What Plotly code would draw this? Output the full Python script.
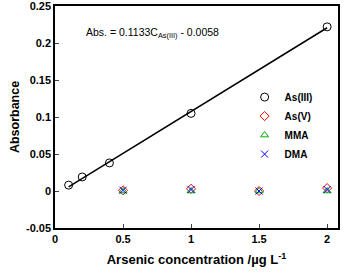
import plotly.graph_objects as go

x_as3 = [0.1, 0.2, 0.4, 1.0, 2.0]
y_as3 = [0.008, 0.019, 0.038, 0.105, 0.222]
x_other = [0.5, 1.0, 1.5, 2.0]
y_as5 = [0.001, 0.003, 0.0, 0.004]
y_mma = [0.0, 0.0, 0.0, 0.0]
y_dma = [0.001, 0.002, 0.0, 0.002]
slope, intercept = 0.1133, -0.0058
fit_x = [0.1, 2.0]
fit_y = [slope * v + intercept for v in fit_x]

font = "Liberation Sans, Arial, sans-serif"
fig = go.Figure()
fig.add_trace(go.Scatter(x=fit_x, y=fit_y, mode="lines", line=dict(color="black", width=1.5), showlegend=False))
fig.add_trace(go.Scatter(x=x_as3, y=y_as3, mode="markers", name="As(III)",
                         marker=dict(symbol="circle-open", size=8, color="black", line=dict(width=1))))
fig.add_trace(go.Scatter(x=x_other, y=y_as5, mode="markers", name="As(V)",
                         marker=dict(symbol="diamond-open", size=7, color="red", line=dict(width=1))))
fig.add_trace(go.Scatter(x=x_other, y=y_mma, mode="markers", name="MMA",
                         marker=dict(symbol="triangle-up-open", size=7, color="#00b000", line=dict(width=1))))
fig.add_trace(go.Scatter(x=x_other, y=y_dma, mode="markers", name="DMA",
                         marker=dict(symbol="x-thin-open", size=7, color="blue", line=dict(width=1, color="blue"))))

fig.add_annotation(x=0.21, y=0.2135, xref="x", yref="y", xanchor="left", yanchor="middle", showarrow=False,
                   text="Abs. = 0.1133C<sub>As(III)</sub> - 0.0058", font=dict(size=10.5, color="black", family=font))

fig.update_layout(
    width=356, height=279, margin=dict(l=55, r=18, t=6, b=51),
    paper_bgcolor="white", plot_bgcolor="white",
    font=dict(family=font, color="black", size=11),
    legend=dict(x=0.67, y=0.655, xanchor="left", yanchor="top", bgcolor="rgba(0,0,0,0)",
                font=dict(size=10, family=font, weight="bold"), itemwidth=30, tracegroupgap=0),
    xaxis=dict(range=[0, 2.08], tickvals=[0, 0.5, 1, 1.5, 2], ticktext=["0", "0.5", "1", "1.5", "2"],
               ticks="inside", ticklen=4, showline=True, linecolor="black", linewidth=1.5, mirror=True,
               showgrid=False, zeroline=False, tickfont=dict(size=11, weight="bold"), automargin=False,
               title=dict(text="Arsenic concentration /µg L<sup>-1</sup>", font=dict(size=13, weight="bold"), standoff=11)),
    yaxis=dict(range=[-0.05, 0.2502], tickvals=[-0.05, 0, 0.05, 0.1, 0.15, 0.2, 0.25],
               ticktext=["-0.05", "0", "0.05", "0.1", "0.15", "0.2", "0.25"],
               ticks="inside", ticklen=4, showline=True, linecolor="black", linewidth=1.5, mirror=True,
               showgrid=False, zeroline=False, tickfont=dict(size=11, weight="bold"), automargin=False,
               title=dict(text="Absorbance", font=dict(size=12.5, weight="bold"), standoff=4)),
)
fig.write_html("out.html", config={"displayModeBar": False},
               post_script="document.body.style.margin='0';document.body.style.padding='0';")
